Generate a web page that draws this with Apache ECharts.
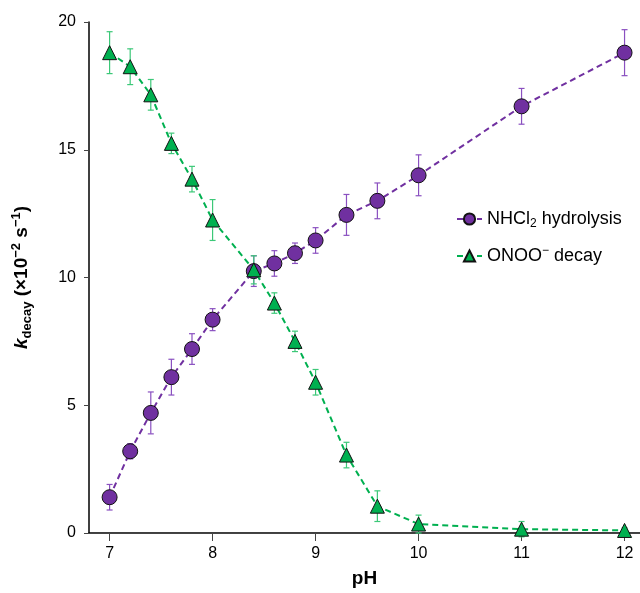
<!DOCTYPE html>
<html>
<head>
<meta charset="utf-8">
<script src="https://cdn.jsdelivr.net/npm/echarts@6/dist/echarts.min.js"></script>
<style>
  html, body { margin: 0; padding: 0; background: #fff; }
  #chart { width: 640px; height: 593px; }
</style>
</head>
<body>
<div id="chart"></div>
<script>
const elChart = document.getElementById('chart');

// Data
const phValues = [7, 7.2, 7.4, 7.6, 7.8, 8.0, 8.4, 8.6, 8.8, 9.0, 9.3, 9.6, 10, 11, 12];
const nhclValues = [1.4, 3.2, 4.7, 6.1, 7.2, 8.35, 10.25, 10.55, 10.95, 11.45, 12.45, 13.0, 14.0, 16.7, 18.8];
const nhclErrors = [0.5, 0.3, 0.82, 0.7, 0.6, 0.43, 0.6, 0.5, 0.4, 0.5, 0.8, 0.7, 0.8, 0.7, 0.9];
const onooValues = [18.8, 18.25, 17.15, 15.25, 13.85, 12.25, 10.3, 9.0, 7.5, 5.9, 3.05, 1.05, 0.35, 0.15, 0.1];
const onooErrors = [0.82, 0.7, 0.6, 0.4, 0.5, 0.8, 0.55, 0.4, 0.4, 0.5, 0.5, 0.6, 0.35, 0.3, 0.1];
const xTicks = [7, 8, 9, 10, 11, 12];

const purple = '#7030A0';
const green = '#00B050';
const font = 'Liberation Sans, Arial, sans-serif';

function errorBars(name, ys, errs, color) {
    return {
        type: 'custom',
        name: name,
        z: 1,
        silent: true,
        data: phValues.map((x, i) => [x, ys[i] - errs[i], ys[i] + errs[i]]),
        encode: { x: 0, y: [1, 2] },
        renderItem: function (params, api) {
            const x = api.value(0);
            const lo = api.coord([x, api.value(1)]);
            const hi = api.coord([x, api.value(2)]);
            const w = 3;
            const st = { stroke: color, lineWidth: 1.2 };
            return {
                type: 'group',
                children: [
                    { type: 'line', shape: { x1: hi[0], y1: hi[1], x2: lo[0], y2: lo[1] }, style: st },
                    { type: 'line', shape: { x1: hi[0] - w, y1: hi[1], x2: hi[0] + w, y2: hi[1] }, style: st },
                    { type: 'line', shape: { x1: lo[0] - w, y1: lo[1], x2: lo[0] + w, y2: lo[1] }, style: st },
                ],
            };
        },
    };
}

const chart = echarts.init(elChart);

const option = {
    animation: false,
    textStyle: { fontFamily: font },

    grid: {
        left: 89,
        top: 22,
        bottom: 56,
        right: 0,
    },

    legend: {
        data: ['NHCl2 hydrolysis', 'ONOO- decay'],
        orient: 'vertical',
        left: 451,
        top: 205,
        itemGap: 15,
        itemWidth: 25,
        itemHeight: 14,
        formatter: function (name) {
            if (name === 'NHCl2 hydrolysis') return '{t|NHCl}{sub|2}{t| hydrolysis}';
            return '{t|ONOO}{sup|−}{t| decay}';
        },
        textStyle: {
            color: '#000',
            rich: {
                t: { fontSize: 18, lineHeight: 22, color: '#000', fontFamily: font },
                sub: { fontSize: 12, lineHeight: 12, verticalAlign: 'bottom', color: '#000', fontFamily: font },
                sup: { fontSize: 12, lineHeight: 12, verticalAlign: 'top', color: '#000', fontFamily: font },
            },
        },
    },

    xAxis: [
        {
            type: 'value',
            min: 6.8,
            max: 12.15,
            name: 'pH',
            nameLocation: 'middle',
            nameGap: 36,
            nameTextStyle: { fontSize: 19, fontWeight: 'bold', color: '#000', fontFamily: font },
            axisLine: { onZero: false, lineStyle: { color: '#000', width: 1.5 } },
            axisTick: { customValues: xTicks, length: 8, lineStyle: { color: '#444' } },
            axisLabel: { customValues: xTicks, fontSize: 16, color: '#000', margin: 13 },
            splitLine: { show: false },
        },
        {
            type: 'value',
            position: 'top',
            min: 6.8,
            max: 12.15,
            axisLine: { show: true, lineStyle: { color: '#444', width: 1.2 } },
            axisTick: { show: false },
            axisLabel: { show: false },
            splitLine: { show: false },
        },
    ],

    yAxis: {
        type: 'value',
        min: 0,
        max: 20,
        interval: 5,
        name: '{k|k}{d|decay}{t| (×10}{sup|−2}{t| s}{sup|−1}{t|)}',
        nameLocation: 'middle',
        nameGap: 55,
        nameRotate: 90,
        nameTextStyle: {
            rich: {
                k: { fontSize: 19, lineHeight: 24, fontWeight: 'bold', fontStyle: 'italic', color: '#000', fontFamily: font },
                t: { fontSize: 19, lineHeight: 24, fontWeight: 'bold', color: '#000', fontFamily: font },
                d: { fontSize: 13, lineHeight: 13, fontWeight: 'bold', verticalAlign: 'bottom', color: '#000', fontFamily: font },
                sup: { fontSize: 13, lineHeight: 13, fontWeight: 'bold', verticalAlign: 'top', color: '#000', fontFamily: font },
            },
        },
        axisLine: { show: true, lineStyle: { color: '#000', width: 1.5 } },
        axisTick: { show: true, length: 5, lineStyle: { color: '#444' } },
        axisLabel: { fontSize: 16, color: '#000', margin: 13 },
        splitLine: { show: false },
    },

    series: [
        errorBars('nhcl-err', nhclValues, nhclErrors, '#8A50C0'),
        errorBars('onoo-err', onooValues, onooErrors, '#3CC878'),
        {
            name: 'NHCl2 hydrolysis',
            type: 'line',
            z: 3,
            data: phValues.map((x, i) => [x, nhclValues[i]]),
            symbol: 'circle',
            symbolSize: 15,
            lineStyle: { color: purple, width: 2, type: [6, 4] },
            itemStyle: { color: purple, borderColor: '#111', borderWidth: 1 },
        },
        {
            name: 'ONOO- decay',
            type: 'line',
            z: 4,
            data: phValues.map((x, i) => [x, onooValues[i]]),
            symbol: 'triangle',
            symbolSize: 14,
            lineStyle: { color: green, width: 2, type: [6, 4] },
            itemStyle: { color: green, borderColor: '#111', borderWidth: 1 },
        },
    ],
};

chart.setOption(option);
</script>
</body>
</html>
